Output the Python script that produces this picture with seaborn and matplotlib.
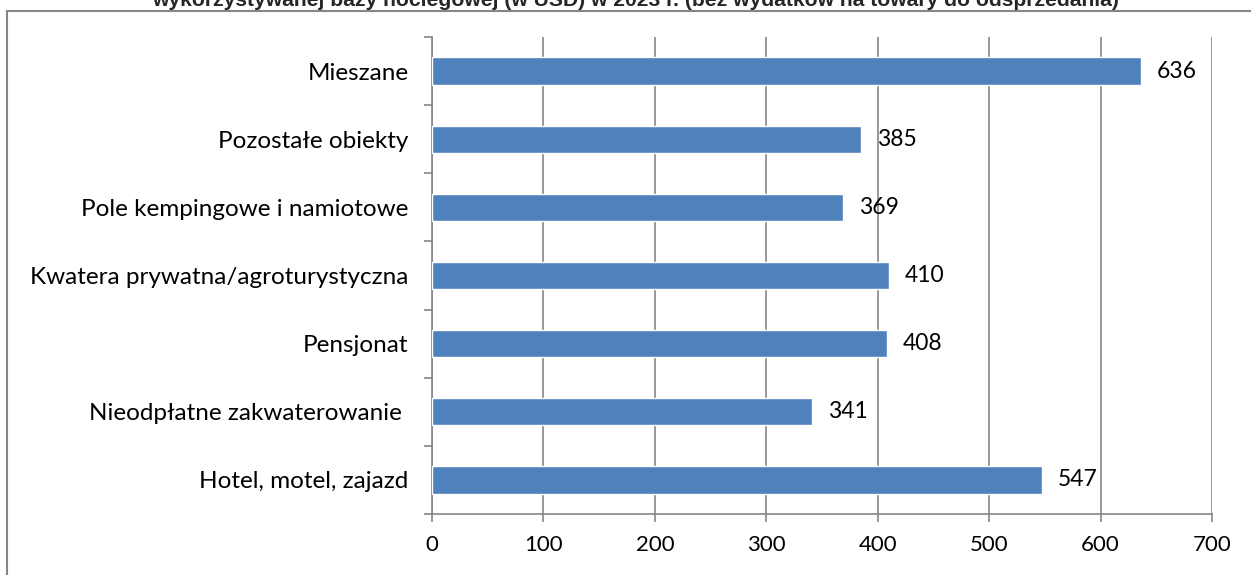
import matplotlib
matplotlib.use("Agg")
import matplotlib.pyplot as plt
import seaborn as sns
import pandas as pd
from matplotlib.patches import Rectangle

categories = ["Mieszane", "Pozostałe obiekty", "Pole kempingowe i namiotowe",
              "Kwatera prywatna/agroturystyczna", "Pensjonat",
              "Nieodpłatne zakwaterowanie ", "Hotel, motel, zajazd"]
values = [636, 385, 369, 410, 408, 341, 547]
x_ticks = [0, 100, 200, 300, 400, 500, 600, 700]
title = ("wykorzystywanej bazy noclegowej (w USD) w 2023 r. "
         "(bez wydatków na towary do odsprzedania)")

df = pd.DataFrame({"kategoria": categories, "wartosc": values})

sns.set_theme(style="white")
plt.rcParams["font.family"] = ["Lato", "DejaVu Sans"]

fig = plt.figure(figsize=(12.51, 5.75), dpi=100)
ax = fig.add_axes([432 / 1251, 1 - 514 / 575, 780 / 1251, 477 / 575])

sns.barplot(data=df, y="kategoria", x="wartosc", orient="h", color="#4F81BD",
            saturation=1, width=0.4, ax=ax, zorder=3)

ax.set_xlim(0, 700)
ax.set_ylim(6.5, -0.5)
ax.set_xticks(x_ticks)
ax.set_xticklabels([str(t) for t in x_ticks], fontsize=16)
ax.set_yticks(range(len(categories)))
ax.set_yticklabels(categories, fontsize=17.5)
ax.set_yticks([i - 0.5 for i in range(len(categories) + 1)], minor=True)
ax.tick_params(axis="y", which="major", length=0, pad=17, colors="black")
ax.tick_params(axis="y", which="minor", length=6, color="#868686", width=1.2, left=True)
ax.tick_params(axis="x", length=6, color="#868686", width=1.2, pad=9,
               labelcolor="black", bottom=True)
ax.set_xlabel("")
ax.set_ylabel("")
ax.grid(axis="x", color="#868686", linewidth=1.2, zorder=0)
ax.grid(axis="y", visible=False)
for s in ["top", "right"]:
    ax.spines[s].set_visible(False)
for s in ["left", "bottom"]:
    ax.spines[s].set_color("#868686")
    ax.spines[s].set_linewidth(1.2)

for i, v in enumerate(values):
    ax.annotate(str(v), (v, i), xytext=(11.5, 0), textcoords="offset points",
                va="center", ha="left", fontsize=16.5, color="black")

fig.patches.append(Rectangle((7 / 1251, -0.1), 1.2, 1 - 11 / 575 + 0.1,
                             transform=fig.transFigure, fill=False,
                             edgecolor="#868686", linewidth=1.5))
fig.text(636 / 1251, 1 - 6 / 575, title, ha="center", va="baseline", fontsize=15.2,
         fontweight="bold", family=["Liberation Sans", "DejaVu Sans"])

fig.savefig("out.png", dpi=100)
